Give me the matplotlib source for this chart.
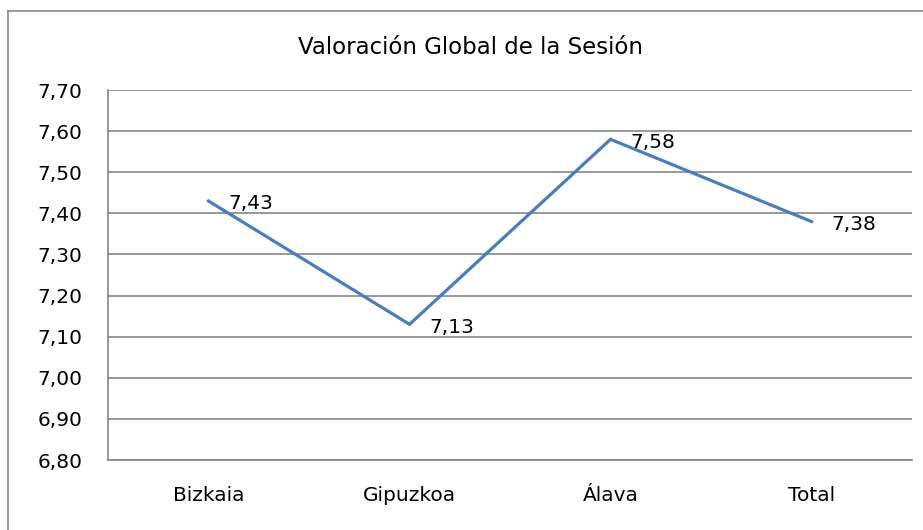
import matplotlib.pyplot as plt
from matplotlib.lines import Line2D

categories = ['Bizkaia', 'Gipuzkoa', 'Álava', 'Total']
values = [7.43, 7.13, 7.58, 7.38]
yticks = [6.80, 6.90, 7.00, 7.10, 7.20, 7.30, 7.40, 7.50, 7.60, 7.70]

plt.rcParams['font.family'] = ['DejaVu Sans']

fig = plt.figure(figsize=(9.23, 5.30), dpi=100)
ax = fig.add_axes([108 / 923, 70 / 530, 804 / 923, 370 / 530])

x = list(range(len(categories)))
ax.plot(x, values, color='#4a7ebb', lw=2.3, solid_joinstyle='miter')
for xi, v in zip(x, values):
    ax.annotate(f'{v:.2f}'.replace('.', ','), (xi, v), xytext=(14, -2),
                textcoords='offset points', ha='left', va='center', fontsize=14.5)

ax.set_xlim(-0.5, 3.5)
ax.set_ylim(6.80, 7.70)
ax.set_yticks(yticks)
ax.set_yticklabels([f'{t:.2f}'.replace('.', ',') for t in yticks], fontsize=14.5)
ax.set_xticks(x)
ax.set_xticklabels(categories, fontsize=14.5)
ax.tick_params(axis='y', length=0, pad=18.5)
ax.tick_params(axis='x', length=0, pad=19)
ax.grid(axis='y', color='#868686', lw=1.2)
ax.set_axisbelow(True)
for s in ['top', 'right']:
    ax.spines[s].set_visible(False)
ax.spines['left'].set_color('#868686')
ax.spines['bottom'].set_color('#868686')
ax.spines['left'].set_linewidth(1.2)
ax.spines['bottom'].set_linewidth(1.2)

fig.text(471 / 923, 1 - 47 / 530, 'Valoración Global de la Sesión',
         ha='center', va='center', fontsize=16.5)

# outer chart border (top and left visible)
fig.add_artist(Line2D([8 / 923, 1], [1 - 11 / 530, 1 - 11 / 530],
                      color='#868686', lw=1.2, transform=fig.transFigure))
fig.add_artist(Line2D([8 / 923, 8 / 923], [0, 1 - 11 / 530],
                      color='#868686', lw=1.2, transform=fig.transFigure))

fig.savefig('out.png', dpi=100)
